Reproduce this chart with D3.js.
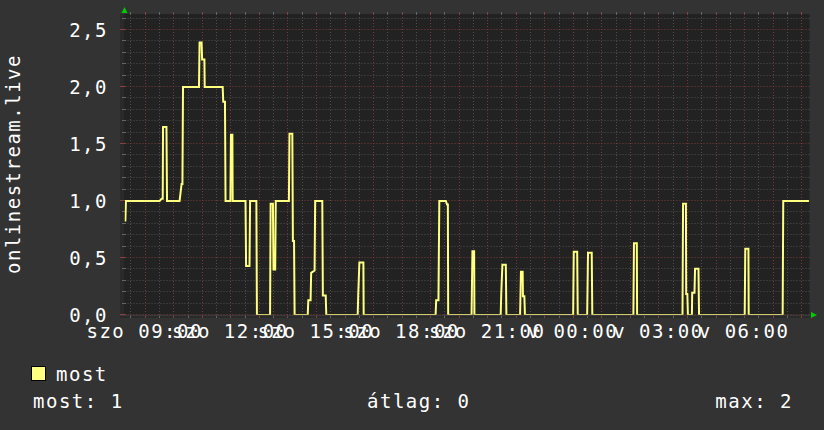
<!DOCTYPE html>
<html><head><meta charset="utf-8">
<script src="https://cdn.jsdelivr.net/npm/d3@7"></script>
<style>body{margin:0;background:#333;} svg{display:block;}</style>
</head><body>
<script>
// ---- data (hours since window start, value) ----
const hours = [0.03,0.05,1.23,1.30,1.34,1.35,1.47,1.49,1.93,2.00,2.03,2.05,2.61,2.63,2.70,2.72,2.80,2.81,3.44,3.46,3.52,3.54,3.71,3.73,3.78,3.79,4.24,4.26,4.38,4.40,4.62,4.64,5.10,5.12,5.20,5.22,5.28,5.30,5.76,5.78,5.88,5.90,5.94,5.96,6.42,6.44,6.52,6.54,6.66,6.68,6.93,6.95,7.05,7.07,8.17,8.19,8.23,8.37,8.38,10.90,10.92,11.00,11.03,11.26,11.30,11.33,11.34,12.16,12.19,12.25,12.26,13.18,13.20,13.24,13.36,13.38,13.86,13.89,13.95,13.96,14.01,14.03,15.72,15.74,15.86,15.88,16.21,16.24,16.37,16.39,17.83,17.85,17.95,17.96,19.55,19.57,19.67,19.68,19.72,19.74,19.88,19.89,19.97,19.99,20.11,20.13,21.73,21.75,21.86,21.87,23.06,23.08,23.98];
const values = [0.82,1.0,1.0,1.02,1.02,1.65,1.65,1.0,1.0,1.15,1.15,2.0,2.0,2.39,2.39,2.24,2.24,2.0,2.0,1.87,1.87,1.0,1.0,1.58,1.58,1.0,1.0,0.43,0.43,1.0,1.0,0,0,0.975,0.975,0.40,0.40,1.0,1.0,1.59,1.59,0.65,0.65,0,0,0.13,0.13,0.37,0.39,1.0,1.0,0.17,0.17,0,0,0.185,0.46,0.46,0,0,0.13,0.13,1.0,1.0,0.97,0.97,0,0,0.56,0.56,0,0,0.185,0.44,0.44,0,0,0.38,0.38,0.165,0.165,0,0,0.555,0.555,0,0,0.545,0.545,0,0,0.63,0.63,0,0,0.975,0.975,0.185,0.185,0,0,0.195,0.195,0.405,0.405,0,0,0.58,0.58,0,0,1.0,1.0];

const yTicks = [0, 0.5, 1.0, 1.5, 2.0, 2.5];
const yTickLabels = ["0,0","0,5","1,0","1,5","2,0","2,5"];
const xLabelHours = [9, 12, 15, 18, 21, 24, 27, 30]; // clock hours from Saturday 00:00
const xLabels = ["szo 09:00","szo 12:00","szo 15:00","szo 18:00","szo 21:00","v 00:00","v 03:00","v 06:00"];
const axisTitle = "onlinestream.live";
const seriesName = "most";
const statNames = ["most","átlag","max"];
const statValues = [1, 0, 2];

// ---- layout ----
const W = 824, H = 430;
const pL = 124.5, pR = 809.5, pT = 14, pB = 315;
const day0 = new Date(2024, 0, 6, 0, 0, 0); // Saturday
const tStart = new Date(2024, 0, 6, 8, 17, 30);
const tEnd = new Date(tStart.getTime() + 24*3600e3);
const x = d3.scaleTime().domain([tStart, tEnd]).range([pL, pR]);
const y = d3.scaleLinear().domain([0, 2.64]).range([pB, pT]);
const FONT = "'DejaVu Sans Mono', monospace";

const svg = d3.select("body").append("svg").attr("width", W).attr("height", H);
svg.append("rect").attr("width", W).attr("height", H).attr("fill", "#333333");
svg.append("rect").attr("x", 120).attr("y", pT).attr("width", pR-120).attr("height", pB+3-pT).attr("fill", "#2a2a2a");
svg.append("rect").attr("x", Math.floor(pL)).attr("y", pT).attr("width", pR-Math.floor(pL)).attr("height", pB-pT).attr("fill", "#222222");

const minorC = "#4e4e4e", majorC = "#7a3838";
const g = svg.append("g");
const minorY = d3.range(0, 27).map(i => i/10);
minorY.forEach(v => {
  const yy = Math.round(y(v)) - 0.5;
  const major = Math.abs(v*2 - Math.round(v*2)) < 1e-6;
  g.append("line").attr("x1", pL).attr("x2", pR).attr("y1", yy).attr("y2", yy)
    .attr("stroke", major ? majorC : minorC).attr("stroke-dasharray", "1,2");
  g.append("line").attr("x1", major ? 120 : 122).attr("x2", 126).attr("y1", yy).attr("y2", yy)
    .attr("stroke", major ? "#8a4040" : "#666");
});
const halfHours = d3.timeMinute.every(30).range(tStart, tEnd);
halfHours.forEach(t => {
  const xx = Math.round(x(t)) + 0.5;
  const major = t.getMinutes() === 0;
  g.append("line").attr("x1", xx).attr("x2", xx).attr("y1", pT).attr("y2", pB)
    .attr("stroke", major ? majorC : minorC).attr("stroke-dasharray", "1,2");
  g.append("line").attr("x1", xx).attr("x2", xx).attr("y1", pB).attr("y2", pB+3)
    .attr("stroke", major ? "#8a4040" : "#666");
  g.append("line").attr("x1", xx).attr("x2", xx).attr("y1", pT-2).attr("y2", pT+1)
    .attr("stroke", major ? "#8a4040" : "#666");
});

const data = hours.map((h, i) => ({t: new Date(tStart.getTime() + h*3600e3), v: values[i]}));
svg.append("clipPath").attr("id", "clip").append("rect")
  .attr("x", pL).attr("y", pT).attr("width", pR-pL).attr("height", pB-pT-0.3);
svg.append("path").datum(data)
  .attr("clip-path", "url(#clip)")
  .attr("fill", "none").attr("stroke", "#ffff80").attr("stroke-width", 2)
  .attr("stroke-linejoin", "miter")
  .attr("d", d3.line().x(d => x(d.t)).y(d => y(d.v)));

svg.append("line").attr("x1", 120).attr("x2", 812).attr("y1", pB+0.5).attr("y2", pB+0.5).attr("stroke", "#3a3a3a");
svg.append("path").attr("d", `M${pL-3},13 L${pL+3},13 L${pL},7 Z`).attr("fill", "#00cc00");
svg.append("path").attr("d", `M811,${pB-3} L811,${pB+3} L817,${pB} Z`).attr("fill", "#00cc00");

const txt = svg.append("g").attr("fill", "#ffffff").attr("font-family", FONT).attr("font-size", 19).attr("letter-spacing", 1.5);
yTicks.forEach((v, i) => {
  txt.append("text").attr("x", 108).attr("y", y(v)).attr("dy", "0.36em").attr("text-anchor", "end").text(yTickLabels[i]);
});
xLabelHours.forEach((h, i) => {
  const t = new Date(day0.getTime() + h*3600e3);
  txt.append("text").attr("x", x(t)).attr("y", 338).attr("text-anchor", "middle").text(xLabels[i]);
});
txt.append("text").attr("transform", "translate(20,164) rotate(-90)").attr("text-anchor", "middle").text(axisTitle);

svg.append("rect").attr("x", 31.5).attr("y", 366.5).attr("width", 14).attr("height", 14)
  .attr("fill", "#ffff80").attr("stroke", "#000").attr("stroke-width", 1);
txt.append("text").attr("x", 56).attr("y", 381).text(seriesName);
txt.append("text").attr("x", 33).attr("y", 408).text(`${statNames[0]}: ${statValues[0]}`);
txt.append("text").attr("x", 367).attr("y", 408).text(`${statNames[1]}: ${statValues[1]}`);
txt.append("text").attr("x", 793).attr("y", 408).attr("text-anchor", "end").text(`${statNames[2]}: ${statValues[2]}`);
</script>
</body></html>
